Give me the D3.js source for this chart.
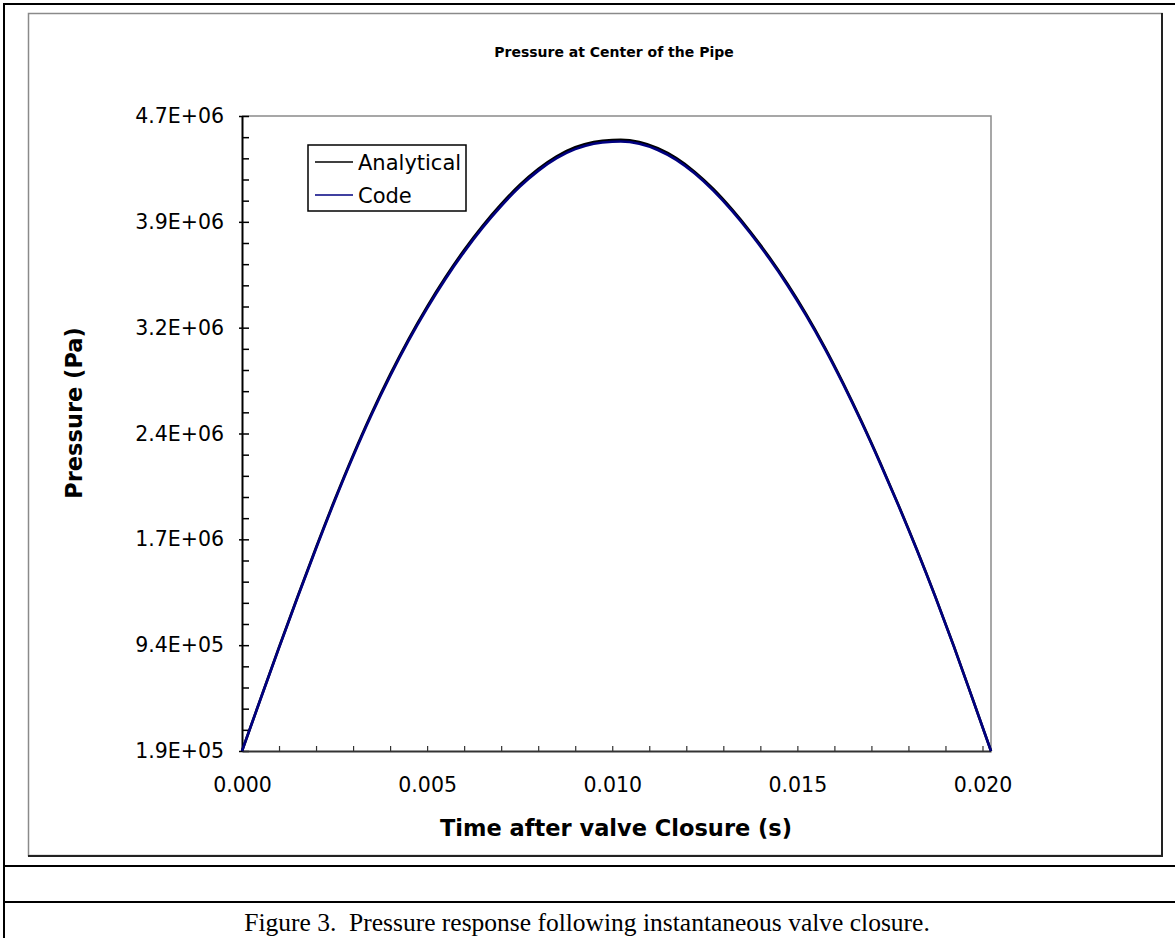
<!DOCTYPE html>
<html>
<head>
<meta charset="utf-8">
<script src="https://cdn.jsdelivr.net/npm/d3@7"></script>
<style>
  body { margin: 0; background: #fff; }
  svg text { font-family: "DejaVu Sans", Verdana, sans-serif; }
</style>
</head>
<body>
<div id="chart"></div>
<script>
// ---- data ----
const time = [
  0, 0.0005, 0.001, 0.0015, 0.002, 0.0025, 0.003, 0.0035, 0.004, 0.0045, 0.005,
  0.0055, 0.006, 0.0065, 0.007, 0.0075, 0.008, 0.0085, 0.009, 0.0095, 0.010,
  0.01023, 0.01073, 0.01123, 0.01173, 0.01223, 0.01273, 0.01323, 0.01373, 0.01423, 0.01473,
  0.01523, 0.01573, 0.01623, 0.01673, 0.01723, 0.01773, 0.01823, 0.01873, 0.01923, 0.01973, 0.02023
];

// Pa
const analytical = [
  190000, 559000, 925000, 1283000, 1632000, 1968000, 2286000, 2583000, 2857000, 3109000, 3339000,
  3549000, 3740000, 3912000, 4065000, 4201000, 4314000, 4404000, 4468000, 4506000, 4520000,
  4521000, 4505000, 4461000, 4391000, 4294000, 4173000, 4030000, 3870000, 3694000, 3501000,
  3289000, 3056000, 2801000, 2528000, 2238000, 1934000, 1616000, 1282000, 930000, 562000, 190000
];

const code = [
  190000, 557000, 921000, 1278000, 1625000, 1960000, 2277000, 2573000, 2846000, 3098000, 3327000,
  3537000, 3727000, 3899000, 4052000, 4188000, 4301000, 4391000, 4455000, 4494000, 4508000,
  4509000, 4493000, 4449000, 4379000, 4282000, 4161000, 4019000, 3859000, 3683000, 3491000,
  3279000, 3047000, 2793000, 2521000, 2232000, 1929000, 1612000, 1279000, 928000, 561000, 190000
];

const yTicks = [190000, 940000, 1690000, 2440000, 3190000, 3940000, 4690000];
const yTickLabels = ["1.9E+05", "9.4E+05", "1.7E+06", "2.4E+06", "3.2E+06", "3.9E+06", "4.7E+06"];
const xTicks = [0, 0.005, 0.010, 0.015, 0.020];
const xTickLabels = ["0.000", "0.005", "0.010", "0.015", "0.020"];

const seriesNames = ["Analytical", "Code"];
const seriesColors = ["#000000", "#000080"];

// ---- layout ----
const W = 1175, H = 938;
const plot = { left: 242, right: 991, top: 116, bottom: 751 };

const svg = d3.select("#chart").append("svg")
  .attr("width", W)
  .attr("height", H);

svg.append("rect").attr("width", W).attr("height", H).attr("fill", "#fff");

// outer table lines
const frame = svg.append("g").attr("stroke", "#000").attr("stroke-width", 2);
frame.append("line").attr("x1", 3).attr("x2", W).attr("y1", 4).attr("y2", 4);
frame.append("line").attr("x1", 4).attr("x2", 4).attr("y1", 3).attr("y2", H);
frame.append("line").attr("x1", 3).attr("x2", W).attr("y1", 866).attr("y2", 866);
frame.append("line").attr("x1", 3).attr("x2", W).attr("y1", 902).attr("y2", 902);

// chart area box
svg.append("rect")
  .attr("x", 28.5).attr("y", 13.5)
  .attr("width", 1162 - 28.5).attr("height", 855.5 - 13.5)
  .attr("fill", "none")
  .attr("stroke", "#8a8a8a")
  .attr("stroke-width", 1.5);
svg.append("path")
  .attr("d", "M1162,13 L1162,856 L28,856")
  .attr("fill", "none")
  .attr("stroke", "#222")
  .attr("stroke-width", 2);

// ---- scales ----
const x = d3.scaleLinear().domain([0, 0.02023]).range([plot.left, plot.right]);
const y = d3.scaleLinear().domain([190000, 4690000]).range([plot.bottom, plot.top]);

// plot area border (top/right gray)
svg.append("path")
  .attr("d", `M${plot.left},${plot.top} L${plot.right},${plot.top} L${plot.right},${plot.bottom}`)
  .attr("fill", "none")
  .attr("stroke", "#8a8a8a")
  .attr("stroke-width", 1.5);

// ---- axes ----
const yMinor = d3.range(0, 31).map(i => 190000 + i * 150000);
svg.append("g")
  .attr("transform", `translate(${plot.left},0)`)
  .call(d3.axisRight(y).tickValues(yMinor).tickSize(7).tickSizeOuter(0).tickFormat(""))
  .call(g => g.select(".domain").remove())
  .call(g => g.selectAll("line").attr("stroke", "#000").attr("stroke-width", 1.5));

svg.append("g")
  .attr("transform", `translate(${plot.left},0)`)
  .call(d3.axisLeft(y).tickValues(yTicks).tickSize(3).tickSizeOuter(0).tickPadding(15)
    .tickFormat((d, i) => yTickLabels[i]))
  .call(g => g.select(".domain").attr("stroke", "#000").attr("stroke-width", 2))
  .call(g => g.selectAll("line").attr("stroke", "#000").attr("stroke-width", 1.5))
  .call(g => g.selectAll("text")
    .style("font-family", "'DejaVu Sans', Verdana, sans-serif")
    .style("font-size", "20.5px").attr("fill", "#000"));

const xMinor = d3.range(0, 21).map(i => i * 0.001);
svg.append("g")
  .attr("transform", `translate(0,${plot.bottom})`)
  .call(d3.axisTop(x).tickValues(xMinor).tickSize(5).tickSizeOuter(0).tickFormat(""))
  .call(g => g.select(".domain").remove())
  .call(g => g.selectAll("line").attr("stroke", "#333").attr("stroke-width", 1.2));

svg.append("g")
  .attr("transform", `translate(0,${plot.bottom})`)
  .call(d3.axisBottom(x).tickValues(xTicks).tickSize(0).tickSizeOuter(0).tickPadding(26)
    .tickFormat((d, i) => xTickLabels[i]))
  .call(g => g.select(".domain").attr("stroke", "#333").attr("stroke-width", 2))
  .call(g => g.selectAll("text")
    .style("font-family", "'DejaVu Sans', Verdana, sans-serif")
    .style("font-size", "20.5px").attr("fill", "#000"));

// ---- lines ----
const line = d3.line()
  .x(d => x(d[0]))
  .y(d => y(d[1]))
  .curve(d3.curveMonotoneX);

[analytical, code].forEach((vals, i) => {
  svg.append("path")
    .datum(time.map((t, j) => [t, vals[j]]))
    .attr("fill", "none")
    .attr("stroke", seriesColors[i])
    .attr("stroke-width", 2.6)
    .attr("d", line);
});

// ---- legend ----
const legend = svg.append("g").attr("transform", "translate(308,145)");
legend.append("rect")
  .attr("width", 158).attr("height", 66)
  .attr("fill", "#fff").attr("stroke", "#000").attr("stroke-width", 1.5);
seriesNames.forEach((name, i) => {
  const yy = 17 + i * 33;
  legend.append("line")
    .attr("x1", 7).attr("x2", 45).attr("y1", yy).attr("y2", yy)
    .attr("stroke", seriesColors[i]).attr("stroke-width", 1.5);
  legend.append("text")
    .attr("x", 50).attr("y", yy + 7.5)
    .style("font-size", "21px")
    .text(name);
});

// ---- titles ----
svg.append("text")
  .attr("x", 614).attr("y", 57)
  .attr("text-anchor", "middle")
  .style("font-size", "14px")
  .style("font-weight", "bold")
  .text("Pressure at Center of the Pipe");

svg.append("text")
  .attr("x", 616).attr("y", 836)
  .attr("text-anchor", "middle")
  .style("font-size", "22.5px")
  .style("font-weight", "bold")
  .text("Time after valve Closure (s)");

svg.append("text")
  .attr("transform", "translate(82,413) rotate(-90)")
  .attr("text-anchor", "middle")
  .style("font-size", "22.5px")
  .style("font-weight", "bold")
  .text("Pressure (Pa)");

// ---- caption ----
svg.append("text")
  .attr("x", 587).attr("y", 931)
  .attr("text-anchor", "middle")
  .style("font-family", "'Liberation Serif', 'Times New Roman', serif")
  .style("font-size", "25.5px")
  .style("white-space", "pre")
  .text("Figure 3.  Pressure response following instantaneous valve closure.");
</script>
</body>
</html>
